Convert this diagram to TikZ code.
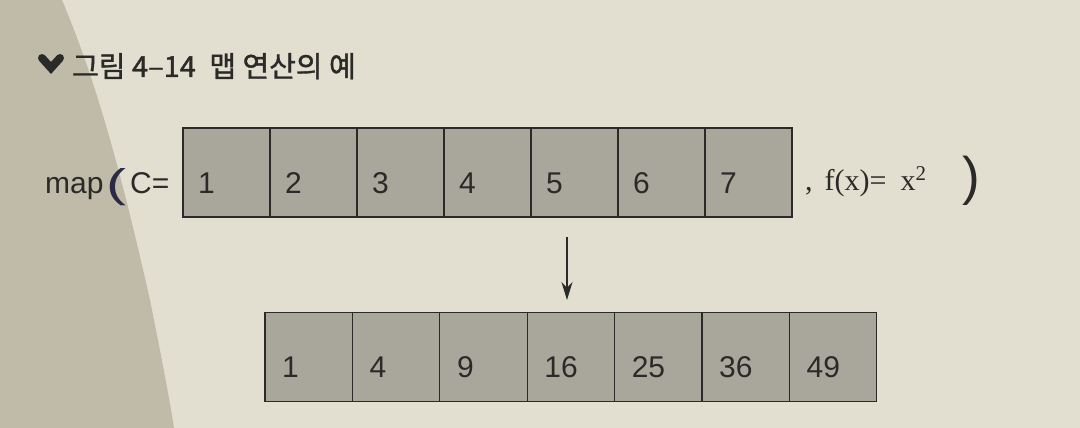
\documentclass[tikz,border=0pt]{standalone}
\usepackage{fontspec}
\setmainfont{Liberation Sans}
\newfontfamily\serifrm{Liberation Serif}
\newfontfamily\krfont[FakeBold=1.2]{Noto Sans CJK KR}
\usetikzlibrary{arrows.meta}
\definecolor{paper}{HTML}{E2DED0}
\definecolor{shadowtan}{HTML}{C0BAA9}
\definecolor{cellgray}{HTML}{A9A79C}
\definecolor{ink}{HTML}{2A2A28}
\definecolor{parenink}{HTML}{2B2A45}

\begin{document}
\begin{tikzpicture}[x=1pt, y=-1pt,
    cell/.style={draw=ink, fill=cellgray, line width=1.3pt,
        minimum width=87pt, minimum height=89pt, inner sep=0pt},
    num/.style={anchor=base west, inner sep=0pt, text=ink,
        font=\fontsize{30}{30}\selectfont}]
\useasboundingbox (0, 0) rectangle (1080, 428);
\fill[paper] (0, 0) rectangle (1080, 428);
\fill[shadowtan] (0, 0) -- (62, 0) .. controls (100, 90) and (125, 190) .. (150, 300)
      .. controls (160, 350) and (168, 390) .. (174, 428) -- (0, 428) -- cycle;
% title
\draw[ink, line width=8pt, line cap=round] (42, 58) -- (51, 68) -- (60, 58);
\node[anchor=base west, inner sep=0pt, text=ink,
      font=\krfont\fontsize{29}{29}\selectfont] (title) at (72, 77)
      {그림 4–14\hspace{7pt} 맵 연산의 예};
% input row
\node[num] (mapword) at (45, 193) {map};
\node[num, text=parenink, font=\fontsize{40}{40}\selectfont] (lparen) at (106, 197)
      {\scalebox{1.5}[1]{(}};
\node[num] (cword) at (130, 193) {C=};
\foreach \v [count=\i from 0] in {1, 2, 3, 4, 5, 6, 7}
    {
    \node[cell] (top\i) at ({226.5+87*\i}, 172.5) {};
    \node[num] (tv\i) at ({198+87*\i}, 193) {\v};
    }
\node[num, font=\serifrm\fontsize{30}{30}\selectfont] (fx) at (805, 190)
      {,\hspace{12pt}f(x)=\hspace{14pt}x\textsuperscript{2}};
\node[num, font=\fontsize{53}{53}\selectfont] (rparen) at (962, 194) {)};
% result row
\coordinate (arrowtop) at (567, 237);
\coordinate (arrowtip) at (567, 300);
\draw[ink, line width=1.4pt, -{Stealth[length=18pt, width=11pt]}] (arrowtop) -- (arrowtip);
\foreach \v [count=\i from 0] in {1, 4, 9, 16, 25, 36, 49}
    {
    \node[cell, minimum width=87.4pt] (bot\i) at ({308.7+87.4*\i}, 357) {};
    \node[num] (bv\i) at ({282+87.4*\i}, 377) {\v};
    }
\end{tikzpicture}
\end{document}
